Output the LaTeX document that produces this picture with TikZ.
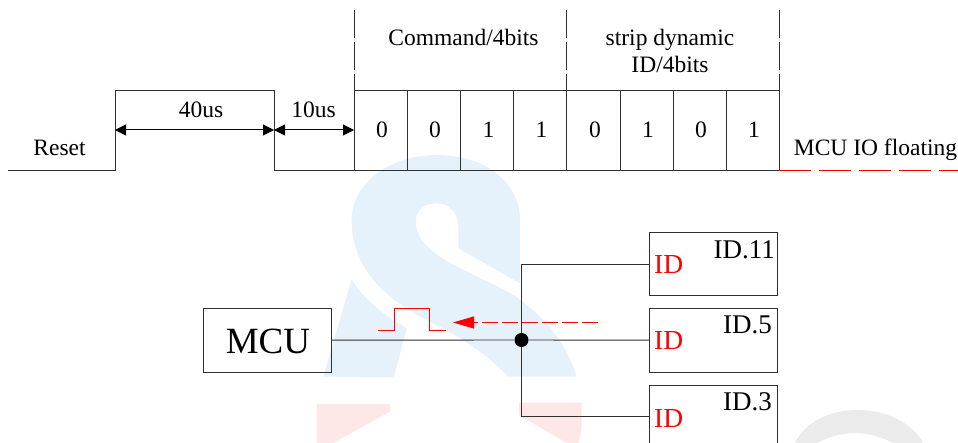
\documentclass[tikz,border=0pt]{standalone}
\usepackage{fontspec}
\setmainfont{Liberation Serif}
\usetikzlibrary{arrows.meta}
\definecolor{wmblue}{HTML}{E5F1FB}
\definecolor{wmred}{HTML}{FDE7E7}
\definecolor{wmgrey}{HTML}{EBEBEB}
\definecolor{linegrey}{HTML}{303030}
\tikzset{
  wire/.style={draw=linegrey,line width=0.9pt},
  bitlabel/.style={anchor=base,inner sep=0pt,font=\fontsize{23.5}{26}\selectfont},
  chipbox/.style={draw=linegrey,line width=0.9pt,fill=none,minimum width=127.5pt,minimum height=63.5pt,inner sep=0pt,anchor=north west},
  idred/.style={anchor=base west,inner sep=0pt,text=red,font=\fontsize{27.5}{30}\selectfont},
  idname/.style={anchor=base east,inner sep=0pt,font=\fontsize{27}{30}\selectfont},
  slotdash/.style={draw=linegrey,line width=0.9pt,dash pattern=on 28pt off 4pt},
  span/.style={draw=black,line width=1pt,{Triangle[length=11pt,width=11pt]}-{Triangle[length=11pt,width=11pt]}}
}
\begin{document}
\begin{tikzpicture}[x=1pt,y=-1pt]
\useasboundingbox (0,0) rectangle (958,443);
\clip (0,0) rectangle (958,443);
% watermark
\begin{scope}[shift={(300pt,-160pt)},x=0.3333pt,y=-0.3333pt]
\fill[wmblue] (475,265) -- (475,200) .. controls (475,155) and (445,130) .. (410,130)
  .. controls (375,130) and (347,150) .. (347,185)
  .. controls (347,225) and (375,260) .. (420,290)
  .. controls (480,330) and (570,365) .. (640,405)
  .. controls (730,465) and (800,550) .. (830,650)
  -- (625,650) .. controls (570,590) and (480,530) .. (400,490)
  .. controls (290,435) and (155,350) .. (155,180)
  .. controls (155,70) and (270,-15) .. (410,-15)
  .. controls (560,-15) and (660,70) .. (660,180)
  -- (660,370) -- cycle;
\fill[wmblue] (155,358) .. controls (190,420) and (260,470) .. (320,505) -- (282,652) -- (70,650) -- cycle;
\fill[wmred] (50,732) -- (270,732) -- (270,755) -- (100,849) -- (50,849) -- cycle;
\fill[wmred] (657,728) -- (845,728) -- (845,790) .. controls (845,815) and (840,835) .. (835,849) -- (800,849) -- (657,765) -- cycle;
\end{scope}
\fill[wmgrey] (795,443) .. controls (805,422) and (830,410) .. (857,410)
  .. controls (885,410) and (912,422) .. (923,443) -- (893,443)
  .. controls (882,437) and (868,433) .. (855,433)
  .. controls (842,433) and (828,437) .. (817,443) -- cycle;
% waveform
\draw[wire] (8,170) -- (115,170) -- (115,90.5) -- (274,90.5) -- (274,170) -- (779,170);
\draw[wire] (354,90.5) -- (779,90.5);
\foreach \xx in {354,407,460.5,513.5,566.5,620,673,726,779}
  \draw[wire] (\xx,90.5) -- (\xx,170);
\foreach \xx in {354,566.5,779}
  \draw[slotdash] (\xx,10) -- (\xx,90.5);
\draw[red,line width=0.9pt,dash pattern=on 32pt off 8pt] (779,170) -- (958,170);
\coordinate (a) at (115,130);
\coordinate (b) at (274,130);
\coordinate (c) at (354,130);
\draw[span] (a) -- (b);
\draw[span] (b) -- (c);
\node[bitlabel] (t40) at (201,118) {40us};
\node[bitlabel] (t10) at (313.5,118) {10us};
\node[bitlabel] (trst) at (59.5,156) {Reset};
\node[bitlabel] (tcmd) at (463.5,46) {Command/4bits};
\node[bitlabel] (tstrip) at (670,46) {strip dynamic};
\node[bitlabel] (tid) at (670,73) {ID/4bits};
\node[bitlabel] (tfloat) at (875.5,156) {MCU IO floating};
\foreach \xx/\vv/\nn in {382/0/b1,435/0/b2,488.5/1/b3,541.5/1/b4,595/0/b5,648/1/b6,701/0/b7,754/1/b8}
  \node[bitlabel] (\nn) at (\xx,138) {\vv};
% schematic
\node[draw=linegrey,line width=0.9pt,minimum width=128pt,minimum height=63.5pt,inner sep=0pt,anchor=north west,font=\fontsize{37}{40}\selectfont,text depth=0pt,yshift=0pt] (mcu) at (203,308) {};
\node[anchor=base,inner sep=0pt,font=\fontsize{37}{40}\selectfont] (mcut) at (268,354) {MCU};
\node[chipbox] (c11) at (649,232) {};
\node[chipbox] (c5) at (649,308) {};
\node[chipbox] (c3) at (649,384.5) {};
\node[circle,fill=black,minimum size=14pt,inner sep=0pt] (dot) at (521.5,340) {};
\draw[wire] (mcu.east) -- (dot);
\draw[wire] (dot) -- (c5.west);
\draw[wire] (dot) |- (c11.west);
\draw[wire] (dot) |- (c3.west);
\node[idred] (r11) at (654,274) {ID};
\node[idred] (r5) at (654,350) {ID};
\node[idred] (r3) at (654,427) {ID};
\node[idname] (n11) at (775,258.5) {ID.11};
\node[idname] (n5) at (772,333.5) {ID.5};
\node[idname] (n3) at (772,410.5) {ID.3};
% pulse and travelling arrow
\draw[red,line width=0.9pt] (378,330) -- (394.5,330) -- (394.5,308) -- (429,308) -- (429,330) -- (445.5,330);
\coordinate (pfrom) at (598,322.5);
\coordinate (pto) at (453,322.5);
\draw[red,line width=0.9pt,dash pattern=on 16pt off 4pt] (pfrom) -- (474,322.5);
\draw[red,line width=0.9pt,-{Triangle[length=21pt,width=12pt]}] (474,322.5) -- (pto);
\end{tikzpicture}
\end{document}
